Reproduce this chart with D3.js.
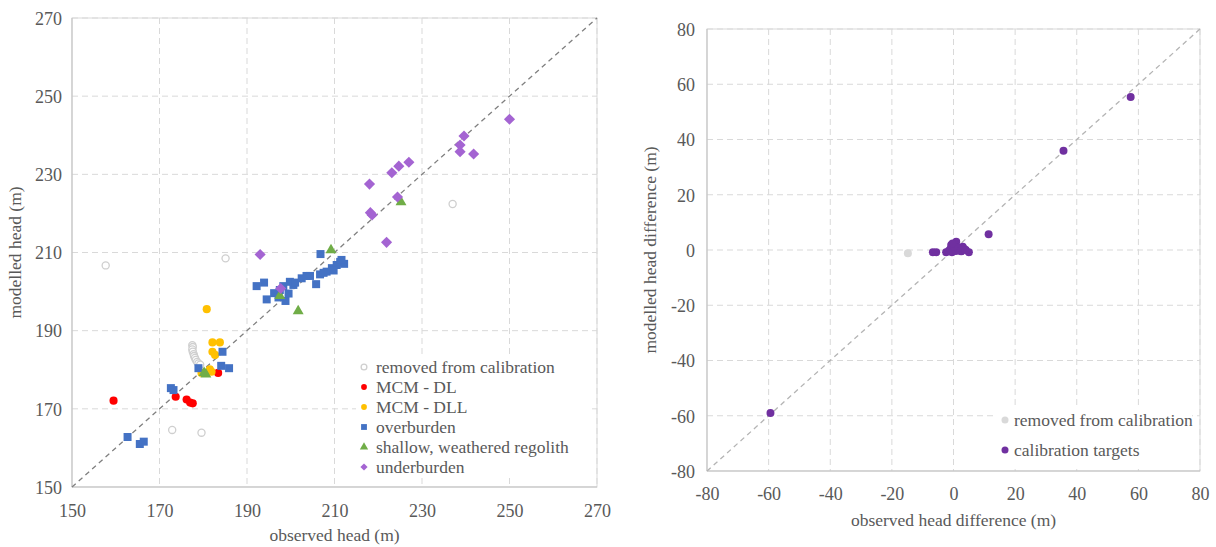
<!DOCTYPE html>
<html><head><meta charset="utf-8">
<script src="https://cdn.jsdelivr.net/npm/d3@7"></script>
<style>
body{margin:0;background:#fff;}
svg text{font-family:"Liberation Serif","DejaVu Serif",serif !important;fill:#595959;}
</style></head>
<body><svg id="c" width="1216" height="547"></svg>
<script>
// ---- Left chart data (observed head, modelled head) ----
const removedHead = [[157.7,206.7],[172.9,164.6],[179.6,163.9],[185.1,208.5],[237,222.4],
 [177.5,186.3],[177.6,185.8],[177.5,185.2],[177.6,184.6],[177.8,184.0],[177.9,183.5],[178.1,183.0],[178.3,182.5],[178.6,182.0],[178.9,181.6],[179.3,181.3]];
const mcmDL = [[159.5,172.1],[173.7,173.1],[176.2,172.4],[177.0,171.6],[177.6,171.4],[183.4,179.2]];
const mcmDLL = [[180.8,195.5],[182.1,187.0],[183.8,187.0],[182.1,184.6],[182.7,183.8],[179.6,179.2],[181.5,180.1],[181.9,179.5]];
const overburden = [[162.7,162.8],[165.5,161.0],[166.4,161.6],[172.6,175.3],[173.2,174.8],[178.9,180.4],[184.4,184.6],[184.1,181.0],[185.9,180.4],
 [192.2,201.4],[193.9,202.3],[194.5,198.0],[196.2,199.6],[197.5,200.4],[198.3,201.4],[199.8,202.5],[200.6,201.7],[201.0,202.3],[202.5,203.4],[203.6,204.0],[204.4,204.0],
 [205.8,201.9],[206.8,209.6],[206.7,204.4],[208.2,205.1],[209.4,206.0],[210.5,206.8],[211.3,207.6],[212.2,207.1],[211.6,208.1],[197.2,198.5],[198.8,197.6],[199.5,199.5],[209.8,205.4],[207.5,204.8]];
const regolith = [[180.2,179.2],[180.6,178.8],[197.5,198.9],[201.7,195.0],[209.2,210.6],[225.2,222.9]];
const underburden = [[193.0,209.5],[197.7,200.8],[218.0,227.5],[218.2,220.2],[218.6,219.6],[221.9,212.6],[223.1,230.4],[224.7,232.1],[227.0,233.1],[224.4,224.2],
 [238.7,237.5],[238.7,235.8],[239.6,239.8],[241.8,235.2],[250.0,244.1]];
const headTicks = [150,170,190,210,230,250,270];
const legendLeft = ["removed from calibration","MCM - DL","MCM - DLL","overburden","shallow, weathered regolith","underburden"];

// ---- Right chart data (observed head difference, modelled head difference) ----
const removedDiff = [[-14.8,-1.2]];
const targetsDiff = [[-59.4,-59.0],[35.7,35.9],[57.5,55.4],[11.4,5.7],[-6.7,-0.8],[-5.6,-0.8],[-2.4,-0.8],[-1.5,-0.3],[-0.75,1.8],[0.9,3.0],[3.0,1.2],[5.0,-0.8],
 [-1.0,0.4],[0.0,0.0],[0.5,1.8],[1.5,0.8],[2.0,0.2],[2.5,-0.5],[3.5,0.4],[-0.5,-0.8],[0.8,-0.4],[1.2,0.8],[0.2,1.2],[-0.3,2.4],[4.0,0.0]];
const diffTicks = [-80,-60,-40,-20,0,20,40,60,80];
const legendRight = ["removed from calibration","calibration targets"];

const svg = d3.select("#c");
const FONT = "'Liberation Serif','DejaVu Serif',serif";
const FS = 17.5, TFS = 18;

function frame(g, x, y, ticks, dashColor){
  const [x0,x1] = x.range(), [y1,y0] = y.range();
  g.append("g").selectAll("line").data(ticks.slice(1)).join("line")
    .attr("x1",d=>x(d)).attr("x2",d=>x(d)).attr("y1",y0).attr("y2",y1)
    .attr("stroke","#d9d9d9").attr("stroke-dasharray","6,4");
  g.append("g").selectAll("line").data(ticks.slice(1)).join("line")
    .attr("y1",d=>y(d)).attr("y2",d=>y(d)).attr("x1",x0).attr("x2",x1)
    .attr("stroke","#d9d9d9").attr("stroke-dasharray","6,4");
  g.append("rect").attr("x",x0).attr("y",y0).attr("width",x1-x0).attr("height",y1-y0)
    .attr("fill","none").attr("stroke","#d9d9d9");
  g.append("line").attr("x1",x0).attr("x2",x0).attr("y1",y0).attr("y2",y1).attr("stroke","#bfbfbf");
  g.append("line").attr("x1",x0).attr("x2",x1).attr("y1",y1).attr("y2",y1).attr("stroke","#bfbfbf");
  const d = x.domain();
  g.append("line").attr("x1",x(d[0])).attr("y1",y(d[0])).attr("x2",x(d[1])).attr("y2",y(d[1]))
    .attr("stroke",dashColor).attr("stroke-width",1.3).attr("stroke-dasharray","5,4");
}
function axes(g, x, y, ticks, ylabX, xlabY){
  const fmt = d => String(d);
  const ax = d3.axisBottom(x).tickValues(ticks).tickSize(0).tickFormat(fmt);
  const ay = d3.axisLeft(y).tickValues(ticks).tickSize(0).tickFormat(fmt);
  const gx = g.append("g").attr("transform",`translate(0,${y.range()[0]})`).call(ax).attr("font-family",FONT).attr("font-size",TFS);
  gx.select(".domain").remove();
  gx.selectAll("text").attr("dy",0).attr("y",xlabY).style("font-family",FONT).style("font-size",TFS+"px").attr("fill","#595959");
  const gy = g.append("g").attr("transform",`translate(${x.range()[0]},0)`).call(ay).attr("font-family",FONT).attr("font-size",TFS);
  gy.select(".domain").remove();
  gy.selectAll("text").attr("x",-ylabX).attr("dy","0.35em").style("font-family",FONT).style("font-size",TFS+"px").attr("fill","#595959");
}
function txt(g){ return g.append("text").style("font-family",FONT).style("font-size",FS+"px").attr("fill","#595959"); }
function symType(s){ return s.shape==="circle"?d3.symbolCircle:s.shape==="triangle"?d3.symbolTriangle:d3.symbolSquare; }

// ===== Left chart =====
const xL = d3.scaleLinear().domain([150,270]).range([72,597]);
const yL = d3.scaleLinear().domain([150,270]).range([487,18]);
const gL = svg.append("g");
frame(gL, xL, yL, headTicks, "#808080");
axes(gL, xL, yL, headTicks, 10, 30);
txt(gL).attr("x",(72+597)/2).attr("y",541).attr("text-anchor","middle").text("observed head (m)");
txt(gL).attr("transform",`translate(21,${(18+487)/2}) rotate(-90)`).attr("text-anchor","middle").text("modelled head (m)");

const seriesL = [
  {data:removedHead, shape:"circle", size:40, fill:"#fff", stroke:"#cfcfcf", sw:1.3},
  {data:mcmDL, shape:"circle", size:52, fill:"#ff0000", stroke:"none"},
  {data:mcmDLL, shape:"circle", size:52, fill:"#ffc000", stroke:"none"},
  {data:overburden, shape:"square", size:64, fill:"#4472c4", stroke:"none"},
  {data:regolith, shape:"triangle", size:52, fill:"#70ad47", stroke:"none"},
  {data:underburden, shape:"diamond", size:62, fill:"#a464d2", stroke:"none"}
];
function drawMarks(g, s, x, y){
  g.append("g").selectAll("path").data(s.data).join("path")
    .attr("d", d3.symbol().type(symType(s)).size(s.size))
    .attr("transform", d=>`translate(${x(d[0])},${y(d[1])})${s.shape==="diamond"?" rotate(45)":""}`)
    .attr("fill",s.fill).attr("stroke",s.stroke).attr("stroke-width",s.sw||0);
}
seriesL.forEach(s=>drawMarks(gL, s, xL, yL));
const legL = gL.append("g");
legL.append("rect").attr("x",356).attr("y",357).attr("width",236).attr("height",121).attr("fill","#fff");
legendLeft.forEach((t,i)=>{
  const s = seriesL[i];
  const cy = 367 + i*20;
  legL.append("path")
    .attr("d", d3.symbol().type(symType(s)).size(s.shape==="square"?34:s.shape==="triangle"?30:26))
    .attr("transform",`translate(364,${cy})${s.shape==="diamond"?" rotate(45)":""}`)
    .attr("fill",s.fill).attr("stroke",s.stroke).attr("stroke-width",s.sw||0);
  txt(legL).attr("x",376).attr("y",cy).attr("dy","0.35em").text(t);
});

// ===== Right chart =====
const xR = d3.scaleLinear().domain([-80,80]).range([707,1200]);
const yR = d3.scaleLinear().domain([-80,80]).range([471,29]);
const gR = svg.append("g");
frame(gR, xR, yR, diffTicks, "#b4b4b4");
axes(gR, xR, yR, diffTicks, 12, 29);
txt(gR).attr("x",(707+1200)/2).attr("y",526).attr("text-anchor","middle").text("observed head difference (m)");
txt(gR).attr("transform",`translate(656,${(29+471)/2}) rotate(-90)`).attr("text-anchor","middle").text("modelled head difference (m)");
const seriesR = [
  {data:removedDiff, shape:"circle", size:50, fill:"#d9d9d9", stroke:"none"},
  {data:targetsDiff, shape:"circle", size:50, fill:"#7030a0", stroke:"none"}
];
seriesR.forEach(s=>drawMarks(gR, s, xR, yR));
const legR = gR.append("g");
legR.append("rect").attr("x",997).attr("y",406).attr("width",195).attr("height",60).attr("fill","#fff");
legendRight.forEach((t,i)=>{
  const cy = 420 + i*30;
  legR.append("circle").attr("cx",1005).attr("cy",cy).attr("r",3.5).attr("fill",seriesR[i].fill);
  txt(legR).attr("x",1014).attr("y",cy).attr("dy","0.35em").text(t);
});
</script></body></html>
